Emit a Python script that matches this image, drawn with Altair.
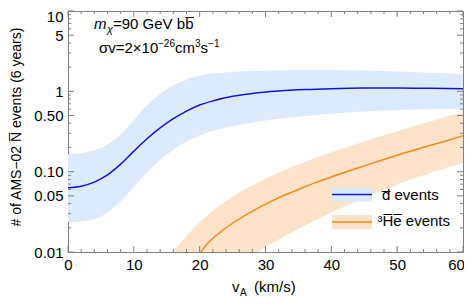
import altair as alt
import pandas as pd

# ---------------- data ----------------
d_x = [0, 2, 4, 6, 8, 10, 12, 14, 16, 18, 20, 22, 25, 28, 32, 36, 40, 45, 50, 55, 60]
d_mid = [0.063, 0.066, 0.074, 0.091, 0.124, 0.18, 0.257, 0.35, 0.456, 0.568, 0.675,
         0.76, 0.867, 0.942, 1.009, 1.052, 1.079, 1.098, 1.102, 1.092, 1.075]
d_hi = [0.165, 0.17, 0.185, 0.217, 0.29, 0.439, 0.664, 0.927, 1.18, 1.403, 1.574,
        1.667, 1.746, 1.786, 1.82, 1.837, 1.837, 1.811, 1.762, 1.706, 1.648]
d_lo = [0.0237, 0.024, 0.0257, 0.0309, 0.0427, 0.0646, 0.0977, 0.141, 0.188, 0.237, 0.282,
        0.322, 0.37, 0.41, 0.455, 0.493, 0.526, 0.56, 0.583, 0.597, 0.605]

he_band_x = [16, 18, 20, 22.5, 25, 27.5, 29, 30, 32.5, 35, 37.5, 40, 42.5, 45,
             47.5, 50, 52.5, 55, 57.5, 60]
he_hi = [0.0102, 0.0158, 0.0234, 0.035, 0.0489, 0.0644, 0.074, 0.0815, 0.101, 0.1227,
         0.1476, 0.174, 0.204, 0.238, 0.276, 0.319, 0.367, 0.42, 0.482, 0.55]
he_lo = [0.008, 0.008, 0.008, 0.008, 0.008, 0.008, 0.0102, 0.0115, 0.015, 0.0193,
         0.0246, 0.031, 0.0386, 0.0475, 0.0574, 0.069, 0.082, 0.096, 0.111, 0.127]

he_line_x = [20, 20.2, 21, 22, 23, 25, 27.5, 30, 32.5, 35, 37.5, 40, 42.5, 45,
             47.5, 50, 52.5, 55, 57.5, 60]
he_line = [0.0095, 0.01, 0.0122, 0.0148, 0.0173, 0.0228, 0.0305, 0.0395, 0.0495, 0.06,
           0.0725, 0.086, 0.101, 0.118, 0.138, 0.16, 0.185, 0.212, 0.243, 0.28]

x_ticks = [0, 10, 20, 30, 40, 50, 60]
x_minor = [v for v in range(2, 60, 2) if v % 10 != 0]
y_ticks = [0.01, 0.05, 0.1, 0.5, 1, 5, 10]
y_labels = ["0.01", "0.05", "0.10", "0.50", "1", "5", "10"]
y_minor = [m * 10 ** e for e in (-2, -1, 0) for m in (2, 3, 4, 6, 7, 8, 9)]

# ---------------- styling ----------------
W, H = 395, 241
FONT = "Liberation Sans"
BLUE, BLUE_BAND = "#1414e0", "#dcebfc"
ORANGE, ORANGE_BAND = "#ff8a12", "#fde3c9"
FRAME = "#808080"

xs = alt.Scale(domain=[0, 60], nice=False, zero=False)
ys = alt.Scale(type="log", domain=[0.01, 10], nice=False)

label_expr = " : ".join(f"datum.value == {v} ? '{l}'" for v, l in zip(y_ticks, y_labels)) + " : ''"

x_axis = alt.Axis(values=x_ticks, ticks=False, domain=False, grid=False, title=None,
                  labelFont=FONT, labelFontSize=15, labelColor="black", labelPadding=5,
                  labelFlush=False,
                  labelOffset={"expr": "datum.value == 60 ? -7 : 0"})
y_axis = alt.Axis(values=y_ticks, ticks=False, domain=False, grid=False,
                  title="# of AMS\u221202 N\u0305 events (6 years)",
                  titleFont=FONT, titleFontSize=14, titleFontWeight="normal",
                  titleColor="black", titleAngle=270, titleX=-52, titleY=115.5,
                  titleAlign="center", titleBaseline="middle",
                  labelExpr=label_expr, labelFont=FONT, labelFontSize=15,
                  labelColor="black", labelPadding=5, labelFlush=False,
                  labelOffset={"expr": "datum.value == 10 ? 5 : 0"})

dd = pd.DataFrame({"x": d_x, "mid": d_mid, "lo": d_lo, "hi": d_hi})
hb = pd.DataFrame({"x": he_band_x, "lo": he_lo, "hi": he_hi})
hl = pd.DataFrame({"x": he_line_x, "y": he_line})

d_band = alt.Chart(dd).mark_area(color=BLUE_BAND, interpolate="monotone", clip=True).encode(
    x=alt.X("x:Q", scale=xs, axis=x_axis),
    y=alt.Y("lo:Q", scale=ys, axis=y_axis),
    y2="hi:Q",
)
he_band = alt.Chart(hb).mark_area(color=ORANGE_BAND, interpolate="monotone", clip=True).encode(
    x=alt.X("x:Q", scale=xs), y=alt.Y("lo:Q", scale=ys), y2="hi:Q"
)
d_line = alt.Chart(dd).mark_line(color=BLUE, strokeWidth=1.5, interpolate="monotone", clip=True).encode(
    x=alt.X("x:Q", scale=xs), y=alt.Y("mid:Q", scale=ys)
)
he_ln = alt.Chart(hl).mark_line(color=ORANGE, strokeWidth=1.5, interpolate="monotone", clip=True).encode(
    x=alt.X("x:Q", scale=xs), y=alt.Y("y:Q", scale=ys)
)

# ---------------- inward frame ticks ----------------
def xtick_layer(vals, length):
    df = pd.DataFrame({"v": vals})
    bottom = alt.Chart(df).mark_rule(color=FRAME, strokeWidth=1).encode(
        x=alt.X("v:Q", scale=xs), y=alt.value(H), y2=alt.value(H - length))
    top = alt.Chart(df).mark_rule(color=FRAME, strokeWidth=1).encode(
        x=alt.X("v:Q", scale=xs), y=alt.value(0), y2=alt.value(length))
    return [bottom, top]

def ytick_layer(vals, length):
    df = pd.DataFrame({"v": vals})
    left = alt.Chart(df).mark_rule(color=FRAME, strokeWidth=1).encode(
        y=alt.Y("v:Q", scale=ys), x=alt.value(0), x2=alt.value(length))
    right = alt.Chart(df).mark_rule(color=FRAME, strokeWidth=1).encode(
        y=alt.Y("v:Q", scale=ys), x=alt.value(W), x2=alt.value(W - length))
    return [left, right]

ticks = (xtick_layer(x_ticks, 6) + xtick_layer(x_minor, 3)
         + ytick_layer(y_ticks, 6) + ytick_layer(y_minor, 3))

# ---------------- text annotations ----------------
one = pd.DataFrame({"a": [0]})

def txt(s, x, y, size=15, style="normal", align="left"):
    return alt.Chart(one).mark_text(text=s, font=FONT, fontSize=size, fontStyle=style,
                                    align=align, baseline="alphabetic", color="black").encode(
        x=alt.value(x), y=alt.value(y))

texts = [
    txt("m", 26, 17.5, style="italic"),
    txt("\u03c7", 39, 21.5, size=11, style="italic"),
    txt("=90 GeV bb\u0305", 45, 17.5),
    txt("\u03c3v=2\u00d710", 31, 42),
    txt("\u221226", 90, 36, size=10),
    txt("cm", 107, 42),
    txt("3", 127, 36, size=10),
    txt("s", 132.6, 42),
    txt("\u22121", 140.1, 36, size=10),
    txt("v", 164, 281),
    txt("A", 172, 285, size=10),
    txt("(km/s)", 186, 281),
    txt("d\u0305 events", 314, 189),
    txt("\u00b3H\u0305e\u0305 events", 309.5, 215),
]

# ---------------- legend swatches ----------------
legend = [
    alt.Chart(one).mark_rect(color=BLUE_BAND).encode(
        x=alt.value(264), x2=alt.value(304), y=alt.value(176.5), y2=alt.value(190.5)),
    alt.Chart(one).mark_rule(color=BLUE, strokeWidth=1.5).encode(
        x=alt.value(264), x2=alt.value(304), y=alt.value(183.5)),
    alt.Chart(one).mark_rect(color=ORANGE_BAND).encode(
        x=alt.value(264), x2=alt.value(304), y=alt.value(204), y2=alt.value(218)),
    alt.Chart(one).mark_rule(color=ORANGE, strokeWidth=1.5).encode(
        x=alt.value(264), x2=alt.value(304), y=alt.value(211)),
]

chart = alt.layer(d_band, he_band, d_line, he_ln, *ticks, *legend, *texts).properties(
    width=W, height=H,
    autosize=alt.AutoSizeParams(type="none"),
    padding={"left": 60, "top": 3, "right": 1, "bottom": 48},
).configure_view(stroke=FRAME, strokeWidth=1)

chart.save("out.html", embed_options={"renderer": "svg", "actions": False})
